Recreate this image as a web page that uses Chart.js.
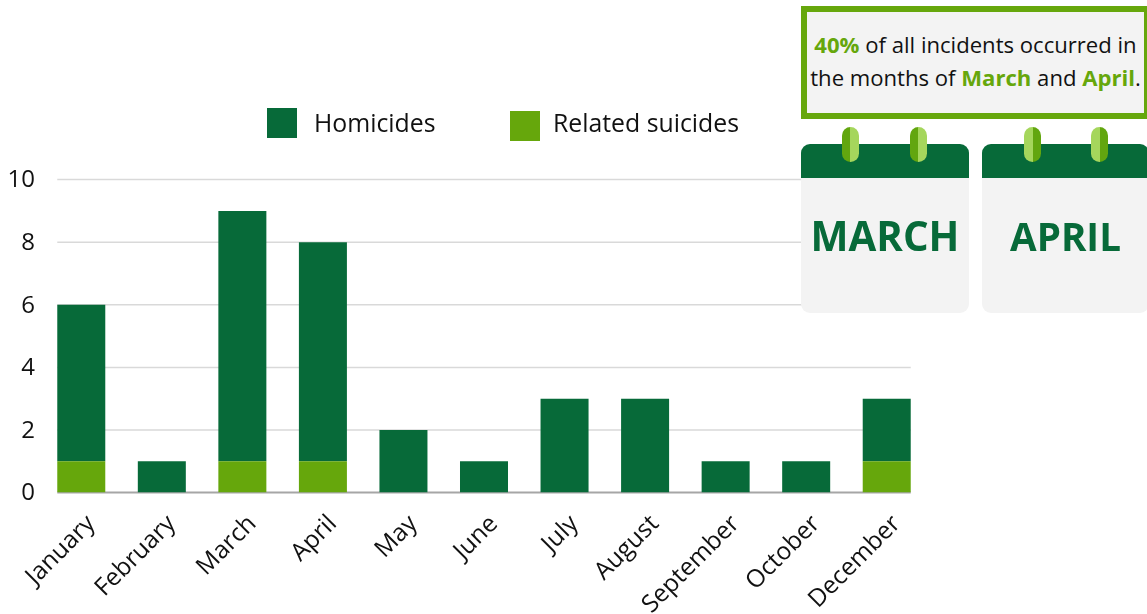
<!DOCTYPE html>
<html>
<head>
<meta charset="utf-8">
<title>Incidents by month</title>
<script src="https://cdn.jsdelivr.net/npm/chart.js@4.4.3/dist/chart.umd.min.js"></script>
<style>
  html, body { margin: 0; padding: 0; background: #fff; overflow: hidden; }
  body { width: 1147px; height: 614px; position: relative; font-family: "Open Sans", sans-serif; color: #111; }
  #chart { position: absolute; left: 0; top: 0; }
  .key { position: absolute; font-size: 24.8px; line-height: 30px; white-space: nowrap; }
  .swatch { position: absolute; width: 30px; height: 30px; }
  #note {
    position: absolute; left: 801px; top: 6px; width: 346px; height: 113px;
    box-sizing: border-box; border: 6px solid #66a70c; border-right-width: 3px; background: #f3f3f3;
    font-size: 22.1px; line-height: 33px; text-align: center; padding-top: 16px; white-space: nowrap;
  }
  #note b { color: #66a70c; font-weight: 700; }
  .cal { position: absolute; top: 144px; height: 169px; background: #f3f3f3; border-radius: 9px; overflow: hidden; }
  .cal .head { height: 34px; background: #076a39; }
  .cal .name { font-weight: 700; line-height: 50px; color: #076a39; text-align: center; margin-top: 33px; }
  .ring { position: absolute; top: 127px; width: 17px; height: 35px; border-radius: 9px; }
  .ring.dark-left { background: linear-gradient(90deg, #62a60f 50%, #a5d65c 50%); }
  .ring.light-left { background: linear-gradient(90deg, #a5d65c 50%, #62a60f 50%); }
</style>
</head>
<body>
<canvas id="chart" width="1147" height="614"></canvas>

<div class="swatch" id="key1" style="left:267px;top:108px"></div>
<div class="key" id="label1" style="left:314px;top:107px"></div>
<div class="swatch" id="key2" style="left:510px;top:111px"></div>
<div class="key" id="label2" style="left:553px;top:107px"></div>

<div id="note"><b>40%</b> of all incidents occurred in<br>the months of <b>March</b> and <b>April</b>.</div>

<div class="cal" style="left:801px;width:168px"><div class="head"></div><div class="name" style="font-size:40.3px">MARCH</div></div>
<div class="cal" style="left:982px;width:167px"><div class="head"></div><div class="name" style="font-size:38.6px">APRIL</div></div>
<div class="ring dark-left" style="left:842px"></div>
<div class="ring dark-left" style="left:910px"></div>
<div class="ring light-left" style="left:1024px"></div>
<div class="ring light-left" style="left:1091px"></div>

<script>
  const months = ['January', 'February', 'March', 'April', 'May', 'June', 'July', 'August', 'September', 'October', 'December'];
  const homicides = [5, 1, 8, 7, 2, 1, 3, 3, 1, 1, 2];
  const relatedSuicides = [1, 0, 1, 1, 0, 0, 0, 0, 0, 0, 1];
  const yTicks = [0, 2, 4, 6, 8, 10];

  const darkGreen = '#076a39';
  const lightGreen = '#66a70c';

  // Grid lines only run from the first bar's left edge to the last bar's right edge
  const shortGrid = {
    id: 'shortGrid',
    beforeDatasetsDraw(chart) {
      const bars = chart.getDatasetMeta(0).data;
      const first = bars[0], last = bars[bars.length - 1];
      const left = first.x - first.width / 2;
      const right = last.x + last.width / 2;
      const y = chart.scales.y;
      const ctx = chart.ctx;
      ctx.save();
      yTicks.forEach(t => {
        ctx.strokeStyle = t === 0 ? '#a6a6a6' : '#d9d9d9';
        ctx.lineWidth = t === 0 ? 2 : 1.5;
        ctx.beginPath();
        ctx.moveTo(left, y.getPixelForValue(t));
        ctx.lineTo(right, y.getPixelForValue(t));
        ctx.stroke();
      });
      ctx.restore();
    }
  };

  const chart = new Chart(document.getElementById('chart'), {
    type: 'bar',
    data: {
      labels: months,
      datasets: [
        { label: 'Related suicides', data: relatedSuicides, backgroundColor: lightGreen },
        { label: 'Homicides', data: homicides, backgroundColor: darkGreen }
      ]
    },
    options: {
      responsive: false,
      animation: false,
      layout: { padding: { left: 0, right: 220, top: 179.6, bottom: 0 } },
      datasets: { bar: { barPercentage: 0.596, categoryPercentage: 1 } },
      plugins: { legend: { display: false }, tooltip: { enabled: false } },
      scales: {
        x: {
          stacked: true,
          grid: { display: false, drawTicks: false },
          border: { display: false },
          ticks: {
            color: '#111',
            font: { family: '"Open Sans", sans-serif', size: 24.5 },
            minRotation: 45,
            maxRotation: 45,
            autoSkip: false,
            padding: 17,
            labelOffset: 10
          },
          // rotated labels would otherwise push the plot area to the right
          afterFit(scale) {
            scale.height = 121.4;
            scale.paddingLeft = 0;
            scale.paddingRight = 0;
          }
        },
        y: {
          stacked: true,
          min: 0,
          max: 10,
          grid: { display: false, drawTicks: false },
          border: { display: false },
          ticks: { color: '#111', font: { family: '"Open Sans", sans-serif', size: 24 }, stepSize: 2, padding: 6, labelOffset: 1 },
          afterFit(scale) { scale.width = 41; }
        }
      }
    },
    plugins: [shortGrid]
  });

  // Legend is laid out by hand, the two entries sit at slightly different heights
  const series = chart.data.datasets;
  document.getElementById('key1').style.background = series[1].backgroundColor;
  document.getElementById('label1').textContent = series[1].label;
  document.getElementById('key2').style.background = series[0].backgroundColor;
  document.getElementById('label2').textContent = series[0].label;
</script>
</body>
</html>
